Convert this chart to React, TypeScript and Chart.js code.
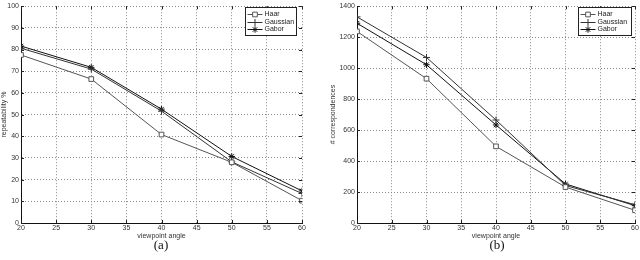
import React, { useEffect, useRef } from 'react';
import { Chart, registerables } from 'chart.js';
import { drawPoint } from 'chart.js/helpers';

Chart.register(...registerables);

const angles = [20, 30, 40, 50, 60];
const seriesNames = ['Haar', 'Gaussian', 'Gabor'];

const repHaar = [77.5, 66.4, 40.8, 28.0, 10.3];
const repGaussian = [80.6, 71.0, 51.6, 28.2, 13.6];
const repGabor = [81.6, 71.8, 52.5, 30.7, 14.8];

const corrHaar = [1237, 932, 495, 232, 82];
const corrGaussian = [1331, 1069, 665, 242, 118];
const corrGabor = [1290, 1022, 633, 252, 112];

const xTitle = 'viewpoint angle';
const repTitle = 'repeatability %';
const corrTitle = '# correspondences';

const FONT = 'Liberation Sans, Arial, sans-serif';

const seriesStyles = [
  { color: '#555', pointStyle: 'rect', radius: 3.3, fill: '#fff' },
  { color: '#333', pointStyle: 'cross', radius: 3.5, fill: '#333' },
  { color: '#111', pointStyle: 'star', radius: 3.2, fill: '#111' },
];

const insideTicks = {
  id: 'insideTicks',
  afterDatasetsDraw(chart: any) {
    const { ctx, chartArea: a, scales } = chart;
    const len = 3;
    ctx.save();
    ctx.strokeStyle = '#222';
    ctx.lineWidth = 1;
    ctx.beginPath();
    scales.x.ticks.forEach((t: any) => {
      const x = Math.round(scales.x.getPixelForValue(t.value)) + 0.5;
      ctx.moveTo(x, a.bottom);
      ctx.lineTo(x, a.bottom - len);
      ctx.moveTo(x, a.top);
      ctx.lineTo(x, a.top + len);
    });
    scales.y.ticks.forEach((t: any) => {
      const y = Math.round(scales.y.getPixelForValue(t.value)) + 0.5;
      ctx.moveTo(a.left, y);
      ctx.lineTo(a.left + len, y);
      ctx.moveTo(a.right, y);
      ctx.lineTo(a.right - len, y);
    });
    ctx.stroke();
    ctx.restore();
  },
};

const insideLegend = {
  id: 'insideLegend',
  afterDraw(chart: any, _args: any, opts: any) {
    const { ctx, chartArea: a } = chart;
    const w = opts.width;
    const h = 28;
    const x0 = Math.round(a.right - opts.offsetRight - w) + 0.5;
    const y0 = Math.round(a.top + 1) + 0.5;
    ctx.save();
    ctx.fillStyle = '#fff';
    ctx.fillRect(x0, y0, w, h);
    ctx.strokeStyle = '#222';
    ctx.lineWidth = 1;
    ctx.strokeRect(x0, y0, w, h);
    chart.data.datasets.forEach((ds: any, i: number) => {
      const y = Math.round(y0 + 6.5 + i * 7.6);
      const lx0 = x0 + 2;
      const lx1 = x0 + 17;
      ctx.strokeStyle = ds.borderColor;
      ctx.lineWidth = 1;
      ctx.beginPath();
      ctx.moveTo(lx0, y + 0.5);
      ctx.lineTo(lx1, y + 0.5);
      ctx.stroke();
      ctx.strokeStyle = ds.pointBorderColor;
      ctx.fillStyle = ds.pointBackgroundColor;
      drawPoint(ctx, { pointStyle: ds.pointStyle, radius: ds.pointRadius, rotation: 0, borderWidth: 1 } as any, (lx0 + lx1) / 2, y + 0.5);
      ctx.fillStyle = '#222';
      ctx.font = `7px ${FONT}`;
      ctx.textBaseline = 'middle';
      ctx.textAlign = 'left';
      ctx.fillText(ds.label, lx1 + 2, y + 0.5);
    });
    ctx.restore();
  },
};

type PanelProps = {
  left: number;
  series: number[][];
  yMax: number;
  yStep: number;
  yTitle: string;
  axisWidth: number;
  yTitlePad: number;
  padTop: number;
  padRight: number;
  legendWidth: number;
  legendOffset: number;
  caption: string;
  captionX: number;
};

function Panel(p: PanelProps) {
  const ref = useRef<HTMLCanvasElement | null>(null);
  useEffect(() => {
    if (!ref.current) return;
    const chart = new Chart(ref.current, {
      type: 'line',
      data: {
        labels: angles,
        datasets: p.series.map((vals, i) => ({
          label: seriesNames[i],
          data: angles.map((a, j) => ({ x: a, y: vals[j] })),
          borderColor: seriesStyles[i].color,
          borderWidth: 1,
          pointStyle: seriesStyles[i].pointStyle as any,
          pointRadius: seriesStyles[i].radius,
          pointBorderWidth: 1,
          pointBorderColor: seriesStyles[i].color,
          pointBackgroundColor: seriesStyles[i].fill,
          tension: 0,
          fill: false,
        })),
      },
      options: {
        animation: false,
        responsive: true,
        maintainAspectRatio: false,
        layout: { padding: { top: p.padTop, right: p.padRight, bottom: 0, left: 0 } },
        plugins: {
          legend: { display: false },
          tooltip: { enabled: false },
          insideLegend: { width: p.legendWidth, offsetRight: p.legendOffset },
        } as any,
        scales: {
          x: {
            type: 'linear',
            min: 20,
            max: 60,
            afterFit(scale: any) {
              scale.height = 37;
            },
            ticks: { stepSize: 5, padding: 1, color: '#333', font: { family: FONT, size: 7 }, maxRotation: 0, callback: (v: any) => String(v) },
            grid: { color: '#8a8a8a', drawTicks: false },
            border: { display: true, color: '#111', width: 1, dash: [1, 2] } as any,
            title: { display: true, text: xTitle, color: '#333', font: { family: FONT, size: 7 }, padding: { top: 0, bottom: 20 } },
          },
          y: {
            min: 0,
            max: p.yMax,
            afterFit(scale: any) {
              scale.width = p.axisWidth;
            },
            ticks: { stepSize: p.yStep, padding: 2, color: '#333', font: { family: FONT, size: 7 }, callback: (v: any) => String(v) },
            grid: { color: '#8a8a8a', drawTicks: false },
            border: { display: true, color: '#111', width: 1, dash: [1, 2] } as any,
            title: { display: true, text: p.yTitle, color: '#333', font: { family: FONT, size: 7 }, padding: { top: p.yTitlePad, bottom: 0 } },
          },
        },
      },
      plugins: [insideTicks, insideLegend],
    });
    return () => chart.destroy();
  }, []);
  return (
    <>
      <div style={{ position: 'absolute', left: p.left, top: 0, width: 320, height: 260 }}>
        <canvas ref={ref} />
      </div>
      <div
        style={{
          position: 'absolute',
          left: p.captionX - 30,
          width: 60,
          top: 237,
          textAlign: 'center',
          fontFamily: 'Liberation Serif, Times New Roman, serif',
          fontSize: 13,
          color: '#111',
        }}
      >
        {p.caption}
      </div>
    </>
  );
}

export default function App() {
  return (
    <div style={{ position: 'absolute', left: 0, top: 0, width: 640, height: 260, background: '#fff' }}>
      <Panel
        left={0}
        series={[repHaar, repGaussian, repGabor]}
        yMax={100}
        yStep={10}
        yTitle={repTitle}
        axisWidth={21}
        yTitlePad={0}
        padTop={2}
        padRight={18}
        legendWidth={51}
        legendOffset={6}
        caption="(a)"
        captionX={161}
      />
      <Panel
        left={320}
        series={[corrHaar, corrGaussian, corrGabor]}
        yMax={1400}
        yStep={200}
        yTitle={corrTitle}
        axisWidth={37}
        yTitlePad={9}
        padTop={1}
        padRight={3}
        legendWidth={53}
        legendOffset={4}
        caption="(b)"
        captionX={497}
      />
    </div>
  );
}
